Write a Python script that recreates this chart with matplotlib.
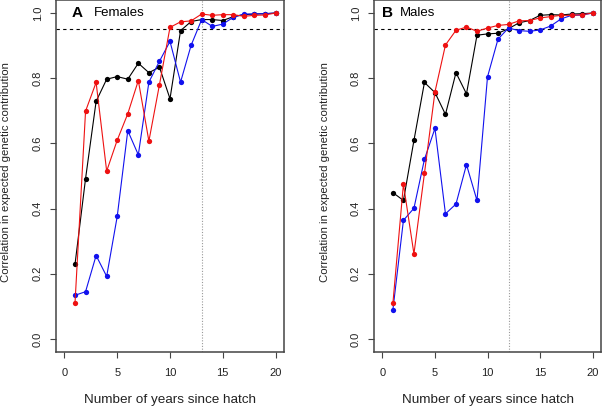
import matplotlib
matplotlib.use("Agg")
import matplotlib.pyplot as plt
import numpy as np

plt.rcParams['font.family'] = ['Liberation Sans', 'DejaVu Sans']

years = list(range(1, 21))

fem_black = [0.229, 0.492, 0.729, 0.797, 0.805, 0.797, 0.846, 0.817, 0.834, 0.737,
             0.946, 0.974, 0.980, 0.980, 0.977, 0.989, 0.995, 0.997, 0.998, 1.000]
fem_red = [0.110, 0.699, 0.787, 0.515, 0.610, 0.691, 0.793, 0.607, 0.780, 0.956,
           0.973, 0.976, 0.997, 0.993, 0.995, 0.995, 0.990, 0.993, 0.994, 1.000]
fem_blue = [0.134, 0.145, 0.256, 0.192, 0.376, 0.639, 0.565, 0.788, 0.852, 0.913,
            0.788, 0.901, 0.980, 0.959, 0.966, 0.987, 0.997, 0.997, 0.998, 1.000]

male_black = [0.449, 0.425, 0.609, 0.787, 0.756, 0.689, 0.817, 0.752, 0.932, 0.936,
              0.938, 0.952, 0.970, 0.977, 0.993, 0.995, 0.994, 0.997, 0.998, 1.000]
male_red = [0.110, 0.475, 0.261, 0.508, 0.758, 0.902, 0.947, 0.957, 0.944, 0.954,
            0.962, 0.965, 0.976, 0.977, 0.985, 0.989, 0.993, 0.993, 0.995, 1.000]
male_blue = [0.090, 0.364, 0.401, 0.551, 0.646, 0.384, 0.414, 0.535, 0.425, 0.804,
             0.920, 0.954, 0.946, 0.944, 0.948, 0.960, 0.982, 0.993, 0.994, 1.000]

panels = [
    ("A", "Females", fem_black, fem_blue, fem_red, 13),
    ("B", "Males", male_black, male_blue, male_red, 12),
]
threshold = 0.95
xticks = [0, 5, 10, 15, 20]
yticks = [0.0, 0.2, 0.4, 0.6, 0.8, 1.0]

W, H = 602, 408
fig = plt.figure(figsize=(W / 100, H / 100), dpi=100)

boxes = [(56, 0, 228, 352), (374, 0, 227, 352)]
label_px = [(72, 94), (382, 400)]
ylab_px = [6, 325]

frame_col = '#444444'
red = '#EE1111'
blue = '#1111EE'

for i, (letter, name, blk, blu, rd, vline) in enumerate(panels):
    x0, y0, w, h = boxes[i]
    ax = fig.add_axes([x0 / W, (H - y0 - h) / H, w / W, h / H])
    ax.set_xlim(-0.8, 20.8)
    ax.set_ylim(-0.04, 1.04)

    ax.axvline(vline, color='#999999', linestyle=(0, (1, 1.5)), linewidth=0.8, zorder=1)
    ax.axhline(threshold, color='black', linestyle=(0, (3, 3)), linewidth=0.8, zorder=1)

    ms = 3.8
    ax.plot(years, blk, color='black', lw=0.8, marker='o', ms=ms, mec='none', zorder=3)
    ax.plot(years, blu, color=blue, lw=0.8, marker='o', ms=ms, mec='none', zorder=4)
    ax.plot(years, rd, color=red, lw=0.8, marker='o', ms=ms, mec='none', zorder=5)

    ax.set_xticks(xticks)
    ax.set_xticklabels([str(t) for t in xticks])
    ax.set_yticks(yticks)
    ax.set_yticklabels([f"{t:.1f}" for t in yticks], rotation=90, va='center')
    ax.tick_params(axis='both', direction='out', length=4.5, width=0.8,
                   color=frame_col, labelsize=8, labelcolor='#222222')
    ax.tick_params(axis='x', pad=7)
    ax.tick_params(axis='y', pad=5)
    for sp in ax.spines.values():
        sp.set_color(frame_col)
        sp.set_linewidth(1.1)

    ax.set_xlabel("Number of years since hatch", fontsize=9.7, color='#222222')
    ax.xaxis.set_label_coords(0.5, (352 - 400) / 352)
    ax.xaxis.label.set_va('center')
    ax.set_ylabel("Correlation in expected genetic contribution", fontsize=8.2, color='#222222')
    ax.yaxis.set_label_coords((ylab_px[i] - x0) / w, (352 - 172) / 352)
    ax.yaxis.label.set_va('center')

    lx, nx = label_px[i]
    ax.text((lx - x0) / w, (352 - 13) / 352, letter, transform=ax.transAxes,
            fontsize=11, fontweight='bold', ha='left', va='center')
    ax.text((nx - x0) / w, (352 - 13) / 352, name, transform=ax.transAxes,
            fontsize=9.5, ha='left', va='center')

fig.savefig("out.png", dpi=100)
